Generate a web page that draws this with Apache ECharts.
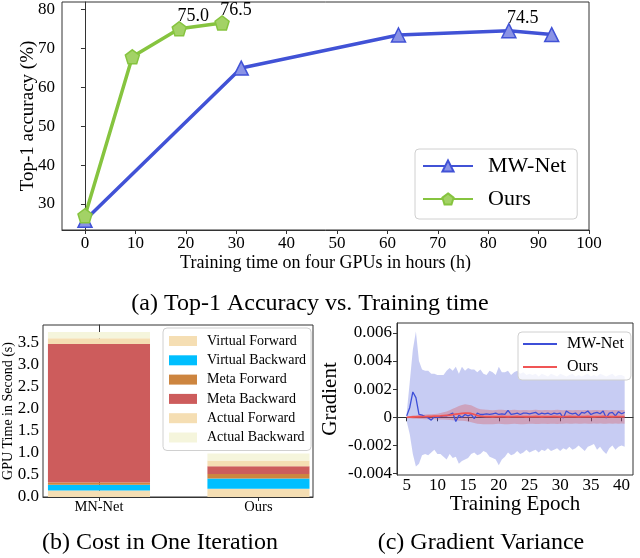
<!DOCTYPE html>
<html><head><meta charset="utf-8">
<script src="https://cdn.jsdelivr.net/npm/echarts@6/dist/echarts.min.js"></script>
<style>html,body{margin:0;padding:0;background:#fff}#c{width:640px;height:558px}</style>
</head><body><div id="c"></div>
<script>
// ---------- (a) Top-1 accuracy vs training time ----------
const mwHours = [0, 31, 62.2, 84.1, 92.6];
const mwAcc = [25.8, 64.9, 73.4, 74.5, 73.5];
const mwLabels = ['', '', '', '74.5', ''];
const oursHours = [0, 9.4, 18.7, 27.2];
const oursAcc = [27.0, 67.8, 75.0, 76.5];
const oursLabels = ['', '', '75.0', '76.5'];
const topXTicks = [0, 10, 20, 30, 40, 50, 60, 70, 80, 90, 100];
const topYTicks = [30, 40, 50, 60, 70, 80];

// ---------- (b) cost in one iteration ----------
const barCats = ['MN-Net', 'Ours'];
const stageNames = ['Virtual Forward', 'Virtual Backward', 'Meta Forward', 'Meta Backward', 'Actual Forward', 'Actual Backward'];
const costMN = [0.15, 0.13, 0.05, 3.15, 0.13, 0.14];
const costOurs = [0.19, 0.23, 0.10, 0.18, 0.13, 0.16];
const costYTicks = [0, 0.5, 1.0, 1.5, 2.0, 2.5, 3.0, 3.5];

// ---------- (c) gradient variance ----------
const epochs = [5,5.5,6,6.5,7,7.5,8,8.5,9,9.5,
  10,10.5,11,11.5,12,12.5,13,13.5,14,14.5,
  15,15.5,16,16.5,17,17.5,18,18.5,19,19.5,
  20,20.5,21,21.5,22,22.5,23,23.5,24,24.5,
  25,25.5,26,26.5,27,27.5,28,28.5,29,29.5,
  30,30.5,31,31.5,32,32.5,33,33.5,34,34.5,
  35,35.5,36,36.5,37,37.5,38,38.5,39,39.5,
  40,40.5];
const mwGrad = [0.0001,0.0007,0.0018,0.0014,0.0002,0.00015,0.00005,-0.00005,-0.0002,0.00005,
  0.0,0.00005,0.0001,0.0001,0.0002,0.0003,-0.0003,0.00015,0.0,0.0002,
  0.0001,0.0002,-0.0001,0.0003,0.0002,0.0002,0.00025,0.0002,0.00025,0.0003,
  0.0002,0.00025,0.0002,0.0005,0.0002,0.00025,0.0003,0.0002,0.0003,0.0003,
  0.00025,0.0003,0.00035,0.0002,0.0003,0.00025,0.0003,0.0002,0.0003,0.00025,
  0.0003,-0.00005,0.00045,0.0003,0.00025,0.0003,0.0001,0.00035,0.0003,0.00045,
  0.0002,0.0003,0.00035,0.00025,0.00045,-0.00005,0.0003,0.00035,0.0001,0.0004,
  0.00025,0.00035];
const mwUpper = [0.0003,0.0025,0.0048,0.0061,0.004,0.0034,0.0033,0.0033,0.0031,0.0031,
  0.003,0.003,0.003,0.0033,0.0035,0.0033,0.0036,0.0031,0.0036,0.0033,
  0.0035,0.0034,0.0034,0.0032,0.0034,0.0031,0.003,0.0033,0.0032,0.003,
  0.0036,0.0032,0.0032,0.0033,0.003,0.0032,0.0033,0.0031,0.0032,0.003,
  0.0031,0.003,0.0031,0.0029,0.0031,0.003,0.0029,0.0031,0.003,0.0029,
  0.0031,0.003,0.0029,0.003,0.0031,0.0029,0.003,0.0029,0.003,0.0031,
  0.0029,0.003,0.0029,0.0031,0.003,0.0029,0.003,0.0031,0.0029,0.003,
  0.003,0.0029];
const mwLower = [-0.0003,-0.0012,-0.0026,-0.0035,-0.0033,-0.0027,-0.0026,-0.0027,-0.0025,-0.0023,
  -0.0026,-0.0026,-0.0028,-0.003,-0.0026,-0.0029,-0.0028,-0.0033,-0.0031,-0.003,
  -0.0029,-0.0026,-0.0025,-0.0027,-0.0026,-0.0024,-0.0025,-0.0028,-0.0029,-0.003,
  -0.0034,-0.003,-0.0028,-0.0025,-0.0027,-0.0026,-0.0024,-0.0026,-0.0025,-0.0023,
  -0.0025,-0.0024,-0.0023,-0.0025,-0.0023,-0.0024,-0.0022,-0.0024,-0.0023,-0.0022,
  -0.0024,-0.0022,-0.0023,-0.0021,-0.0023,-0.0022,-0.002,-0.0022,-0.0024,-0.0021,
  -0.002,-0.0019,-0.0023,-0.0021,-0.0024,-0.0026,-0.0022,-0.002,-0.0023,-0.0021,
  -0.002,-0.0021];
const oursGrad = [0,0.00001,0.00002,0.00003,0.00004,0.00005,0.00005,0.00006,0.00007,0.00008,
  0.00009,0.0001,0.00012,0.00014,0.00016,0.00019,0.00022,0.00025,0.00028,0.0003,
  0.0003,0.00027,0.0002,0.00012,0.00008,0.00006,0.00005,0.00005,0.00004,0.00005,
  0.00005,0.00006,0.00005,0.00004,0.00005,0.00005,0.00006,0.00005,0.00005,0.00004,
  0.00005,0.00005,0.00006,0.00005,0.00004,0.00005,0.00005,0.00005,0.00006,0.00005,
  0.00004,0.00005,0.00005,0.00006,0.00005,0.00005,0.00004,0.00005,0.00005,0.00006,
  0.00005,0.00004,0.00005,0.00005,0.00006,0.00005,0.00005,0.00004,0.00005,0.00005,
  0.00005,0.00005];
const oursUpper = [0.00002,0.00008,0.00012,0.00014,0.00016,0.00018,0.0002,0.00021,0.00022,0.00024,
  0.00026,0.0003,0.00035,0.00042,0.0005,0.0006,0.0007,0.0008,0.00088,0.00092,
  0.0009,0.00085,0.00075,0.00065,0.00058,0.00055,0.00053,0.00052,0.0005,0.00052,
  0.00054,0.00053,0.00051,0.0005,0.00052,0.00053,0.00051,0.0005,0.00052,0.00051,
  0.0005,0.00052,0.00053,0.00051,0.0005,0.00051,0.00052,0.0005,0.00051,0.00053,
  0.00051,0.0005,0.00052,0.00051,0.0005,0.00052,0.00051,0.0005,0.00051,0.00052,
  0.0005,0.00051,0.00052,0.0005,0.00051,0.00052,0.0005,0.00051,0.00052,0.0005,
  0.00051,0.0005];
const oursLower = [-0.00002,-0.00006,-0.0001,-0.00011,-0.00012,-0.00012,-0.00013,-0.00013,-0.00014,-0.00014,
  -0.00015,-0.00015,-0.00016,-0.00018,-0.0002,-0.00021,-0.00022,-0.00024,-0.00025,-0.00027,
  -0.0003,-0.00035,-0.0004,-0.00045,-0.00048,-0.0005,-0.0005,-0.00049,-0.0005,-0.00048,
  -0.00046,-0.00048,-0.0005,-0.00049,-0.00047,-0.00046,-0.00048,-0.0005,-0.00049,-0.00047,
  -0.00046,-0.00045,-0.00047,-0.00048,-0.00046,-0.00045,-0.00047,-0.00046,-0.00045,-0.00047,
  -0.00046,-0.00045,-0.00044,-0.00046,-0.00045,-0.00044,-0.00046,-0.00045,-0.00044,-0.00045,
  -0.00046,-0.00044,-0.00045,-0.00044,-0.00046,-0.00045,-0.00044,-0.00045,-0.00044,-0.00045,
  -0.00044,-0.00045];
const gradXTicks = [5, 10, 15, 20, 25, 30, 35, 40];
const gradYTicks = [-0.004, -0.002, 0, 0.002, 0.004, 0.006];

// ---------- styling ----------
const FONT = 'Liberation Serif';
const FRAME = '#333';
const stageColors = ['#f5deb3', '#00bfff', '#cd853f', '#cd5c5c', '#f5deb3', '#f5f5dc'];
const pentagon = 'path://M0,-10L9.51,-3.09L5.88,8.09L-5.88,8.09L-9.51,-3.09Z';

function gridOf(left, top, width, height) {
  return {left, top, width, height, show: true, borderColor: FRAME, borderWidth: 1,
    backgroundColor: 'transparent', containLabel: false, outerBoundsMode: 'none'};
}
function valAxis(gi, min, max, ticks, fontSize, margin, fmt, extra) {
  return Object.assign({
    type: 'value', gridIndex: gi, min, max, scale: false,
    nameMoveOverlap: false,
    splitLine: {show: false},
    axisLine: {show: true, lineStyle: {color: FRAME, width: 1}},
    axisTick: {show: true, length: 4, customValues: ticks, lineStyle: {color: FRAME}},
    axisLabel: {customValues: ticks, fontSize, margin, color: '#000', fontFamily: FONT,
      formatter: fmt || (v => String(v))}
  }, extra || {});
}

// stacked bar extents built from the cost arrays
function cumulative(arr) { const out = [0]; arr.forEach(v => out.push(out[out.length - 1] + v)); return out; }
const cumMN = cumulative(costMN);
const cumOurs = cumulative(costOurs);
const BAR_W = 0.64;

function barRender(params, api) {
  const x = api.value(0), b = api.value(1), t = api.value(2);
  const p0 = api.coord([x, b]);
  const p1 = api.coord([x, t]);
  const w = api.size([BAR_W, 0])[0];
  return {type: 'rect', shape: {x: p0[0] - w / 2, y: p1[1], width: w, height: p0[1] - p1[1]},
    style: {fill: api.visual('color')}};
}

function bandSeries(lo, hi, color, z) {
  return {
    type: 'custom', xAxisIndex: 2, yAxisIndex: 2, silent: true, z, clip: true,
    data: epochs.map((e, i) => [e, lo[i], hi[i]]),
    encode: {x: 0, y: [1, 2]},
    renderItem: function (params, api) {
      if (params.dataIndex !== 0) return null;
      const pts = [];
      for (let i = 0; i < epochs.length; i++) pts.push(api.coord([epochs[i], hi[i]]));
      for (let i = epochs.length - 1; i >= 0; i--) pts.push(api.coord([epochs[i], lo[i]]));
      return {type: 'polygon', shape: {points: pts}, style: {fill: color}};
    }
  };
}

const series = [];
// (a)
series.push({
  name: 'MW-Net', type: 'line', xAxisIndex: 0, yAxisIndex: 0, z: 3,
  data: mwHours.map((h, i) => ({value: [h, mwAcc[i]], label: {show: !!mwLabels[i], formatter: mwLabels[i]}})),
  symbol: 'triangle', symbolSize: 14,
  lineStyle: {color: '#4152d6', width: 3.5},
  itemStyle: {color: '#8a93e6', borderColor: '#4152d6', borderWidth: 1.5},
  label: {position: 'top', offset: [14, 6], distance: 2, fontSize: 18, color: '#000', fontFamily: FONT}
});
series.push({
  name: 'Ours', type: 'line', xAxisIndex: 0, yAxisIndex: 0, z: 4,
  data: oursHours.map((h, i) => ({value: [h, oursAcc[i]], label: {show: !!oursLabels[i], formatter: oursLabels[i]}})),
  symbol: pentagon, symbolSize: 14,
  lineStyle: {color: '#86c43f', width: 3.5},
  itemStyle: {color: '#a3d266', borderColor: '#86c43f', borderWidth: 1.5},
  label: {position: 'top', offset: [14, 6], distance: 2, fontSize: 18, color: '#000', fontFamily: FONT}
});
// (b)
stageNames.forEach((name, k) => {
  series.push({
    name, type: 'custom', xAxisIndex: 1, yAxisIndex: 1, z: 2,
    itemStyle: {color: stageColors[k]},
    data: [[0, cumMN[k], cumMN[k + 1]], [1, cumOurs[k], cumOurs[k + 1]]],
    encode: {x: 0, y: [1, 2]},
    renderItem: barRender
  });
});
// (c)
series.push(bandSeries(mwLower, mwUpper, 'rgba(70,85,215,0.3)', 1));
series.push(bandSeries(oursLower, oursUpper, 'rgba(220,70,70,0.3)', 2));
series.push({
  name: 'gMW', type: 'line', xAxisIndex: 2, yAxisIndex: 2, z: 4, symbol: 'none',
  data: epochs.map((e, i) => [e, mwGrad[i]]),
  lineStyle: {color: '#3d4fd8', width: 1.3}, itemStyle: {color: '#3d4fd8'}
});
series.push({
  name: 'gOurs', type: 'line', xAxisIndex: 2, yAxisIndex: 2, z: 5, symbol: 'none',
  data: epochs.map((e, i) => [e, oursGrad[i]]),
  lineStyle: {color: '#f05555', width: 1.8}, itemStyle: {color: '#f05555'}
});

const gradNames = {gMW: 'MW-Net', gOurs: 'Ours'};
const legendBox = {borderColor: '#d0d0d0', borderWidth: 1, borderRadius: 4, backgroundColor: 'rgba(255,255,255,0.8)'};

const option = {
  animation: false,
  backgroundColor: '#fff',
  textStyle: {fontFamily: FONT, color: '#000'},
  grid: [gridOf(62, 2, 527, 228), gridOf(43, 325, 270, 172), gridOf(397, 323, 236, 152)],
  xAxis: [
    valAxis(0, -4.56, 100, topXTicks, 17, 5, null, {
      name: 'Training time on four GPUs in hours (h)', nameLocation: 'middle', nameGap: 24,
      nameTextStyle: {fontSize: 18, color: '#000', fontFamily: FONT}}),
    valAxis(1, -0.351, 1.342, [0, 1], 14.5, 3, v => barCats[Math.round(v)]),
    valAxis(2, 3.42, 41.86, gradXTicks, 17, 2, null, {
      name: 'Training Epoch', nameLocation: 'middle', nameGap: 19,
      nameTextStyle: {fontSize: 21, color: '#000', fontFamily: FONT}})
  ],
  yAxis: [
    valAxis(0, 23.32, 81.87, topYTicks, 17, 7, null, {
      name: 'Top-1 accuracy (%)', nameLocation: 'middle', nameGap: 24,
      nameTextStyle: {fontSize: 19, color: '#000', fontFamily: FONT}}),
    valAxis(1, 0, 3.909, costYTicks, 17, 4, v => v.toFixed(1), {
      name: 'GPU Time in Second (s)', nameLocation: 'middle', nameGap: 28,
      nameTextStyle: {fontSize: 14, color: '#000', fontFamily: FONT}}),
    valAxis(2, -0.0041, 0.0067, gradYTicks, 17, 5, v => (Math.abs(v) < 1e-12 ? '0' : v.toFixed(3)), {
      name: 'Gradient', nameLocation: 'middle', nameGap: 56,
      nameTextStyle: {fontSize: 21, color: '#000', fontFamily: FONT}})
  ],
  legend: [
    Object.assign({
      data: ['MW-Net', 'Ours'], left: 415, top: 149, orient: 'vertical',
      itemWidth: 50, itemHeight: 14, itemGap: 11, padding: [6, 11, 9, 7],
      textStyle: {fontSize: 22, lineHeight: 22, color: '#000', fontFamily: FONT, padding: [0, 0, 0, 10]}
    }, legendBox),
    Object.assign({
      data: stageNames, left: 163, top: 328, orient: 'vertical', icon: 'rect',
      itemWidth: 28, itemHeight: 10, itemGap: 5.3, padding: [6, 5, 6, 6],
      textStyle: {fontSize: 14, lineHeight: 14, color: '#000', fontFamily: FONT, padding: [0, 0, 0, 5]}
    }, legendBox),
    Object.assign({
      data: ['gMW', 'gOurs'], left: 518, top: 332, orient: 'vertical', icon: 'rect',
      itemWidth: 34, itemHeight: 2, itemGap: 7, padding: [4, 7, 5, 5],
      formatter: n => gradNames[n],
      textStyle: {fontSize: 16, lineHeight: 16, color: '#000', fontFamily: FONT, padding: [0, 0, 0, 5]}
    }, legendBox)
  ],
  graphic: [
    {type: 'text', silent: true, style: {text: '(a) Top-1 Accuracy vs. Training time', x: 310, y: 304,
      align: 'center', verticalAlign: 'middle', fontSize: 24, fontFamily: FONT, fill: '#000'}},
    {type: 'text', silent: true, style: {text: '(b) Cost in One Iteration', x: 160, y: 543,
      align: 'center', verticalAlign: 'middle', fontSize: 24, fontFamily: FONT, fill: '#000'}},
    {type: 'text', silent: true, style: {text: '(c) Gradient Variance', x: 481, y: 543,
      align: 'center', verticalAlign: 'middle', fontSize: 24, fontFamily: FONT, fill: '#000'}}
  ],
  series
};

const chart = echarts.init(document.getElementById('c'), null, {renderer: 'canvas'});
chart.setOption(option);
</script>
</body></html>
